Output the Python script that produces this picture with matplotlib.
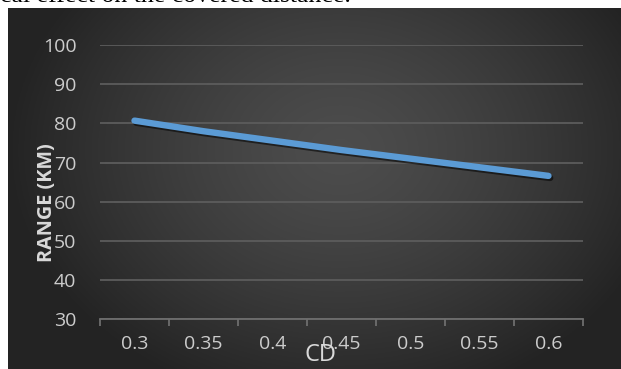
import numpy as np
import matplotlib
matplotlib.use("Agg")
import matplotlib.pyplot as plt
import matplotlib.patheffects as pe

# Drag coefficient values and the resulting driving range
cd_labels = ["0.3", "0.35", "0.4", "0.45", "0.5", "0.55", "0.6"]
range_km = [80.7, 78.0, 75.6, 73.2, 71.0, 68.8, 66.6]
y_ticks = [30, 40, 50, 60, 70, 80, 90, 100]

W, H = 621, 369
fig = plt.figure(figsize=(W / 100, H / 100), dpi=100)
fig.patch.set_facecolor("white")

# Caption fragment from the surrounding page, clipped at the top edge
fig.text(0.0, 1 - 1.5 / H, "cal effect on the covered distance.", family="Liberation Serif",
         fontsize=18.5, color="black", ha="left", va="baseline")

# Dark chart area with a soft radial gradient
bg_left, bg_top = 8, 8
bg = fig.add_axes([bg_left / W, 0, (W - bg_left) / W, (H - bg_top) / H])
gx, gy = np.meshgrid(np.linspace(bg_left, W, 400), np.linspace(bg_top, H, 240))
cx, cy = 340, 150
r = np.sqrt(((gx - cx) / 330) ** 2 + ((gy - cy) / 260) ** 2)
r = np.clip(r, 0, 1)
c_in, c_out = 0.30, 0.14
shade = c_in + (c_out - c_in) * r ** 1.4
bg.imshow(np.dstack([shade] * 3), aspect="auto", extent=[0, 1, 0, 1], origin="upper")
bg.set_axis_off()

# Plot area
px0, px1, py_top, py_bot = 100, 583, 45, 319.3
ax = fig.add_axes([px0 / W, (H - py_bot) / H, (px1 - px0) / W, (py_bot - py_top) / H])
ax.patch.set_alpha(0)

x = np.arange(len(cd_labels))
ax.plot(x, range_km, color="#5b9bd5", lw=4.6, solid_capstyle="round", clip_on=False,
        zorder=3,
        path_effects=[pe.SimpleLineShadow(offset=(1.2, -1.5), shadow_color="black", alpha=0.55),
                      pe.Normal()])

ax.set_xlim(-0.5, len(cd_labels) - 0.5)
ax.set_ylim(30, 100)
ax.set_yticks(y_ticks)
ax.set_yticklabels([str(v) for v in y_ticks])
ax.set_xticks(x)
ax.set_xticklabels(cd_labels)
ax.set_xticks(np.arange(-0.5, len(cd_labels)), minor=True)

ax.grid(axis="y", color="#5c5c5c", lw=1.3)
ax.set_axisbelow(True)
for s in ["top", "right", "left"]:
    ax.spines[s].set_visible(False)
ax.spines["bottom"].set_color("#6e6e6e")
ax.spines["bottom"].set_linewidth(1.3)

label_font = "Open Sans"
ax.tick_params(axis="y", length=0, pad=17, labelsize=14, labelcolor="#cccccc")
ax.tick_params(axis="x", which="major", length=0, pad=11, labelsize=14, labelcolor="#cccccc")
ax.tick_params(axis="x", which="minor", length=5, width=1.3, color="#6e6e6e")
for t in ax.get_xticklabels() + ax.get_yticklabels():
    t.set_family(label_font)

# Axis titles
fig.text(47 / W, 1 - 203 / H, "RANGE (KM)", rotation=90, family=label_font, weight="bold",
         fontsize=14.3, color="#d9d9d9", ha="center", va="center")
fig.text(320 / W, 1 - 355 / H, "CD", family=label_font, fontsize=17,
         color="#d9d9d9", ha="center", va="center")

fig.savefig("out.png", dpi=100, facecolor=fig.get_facecolor())
